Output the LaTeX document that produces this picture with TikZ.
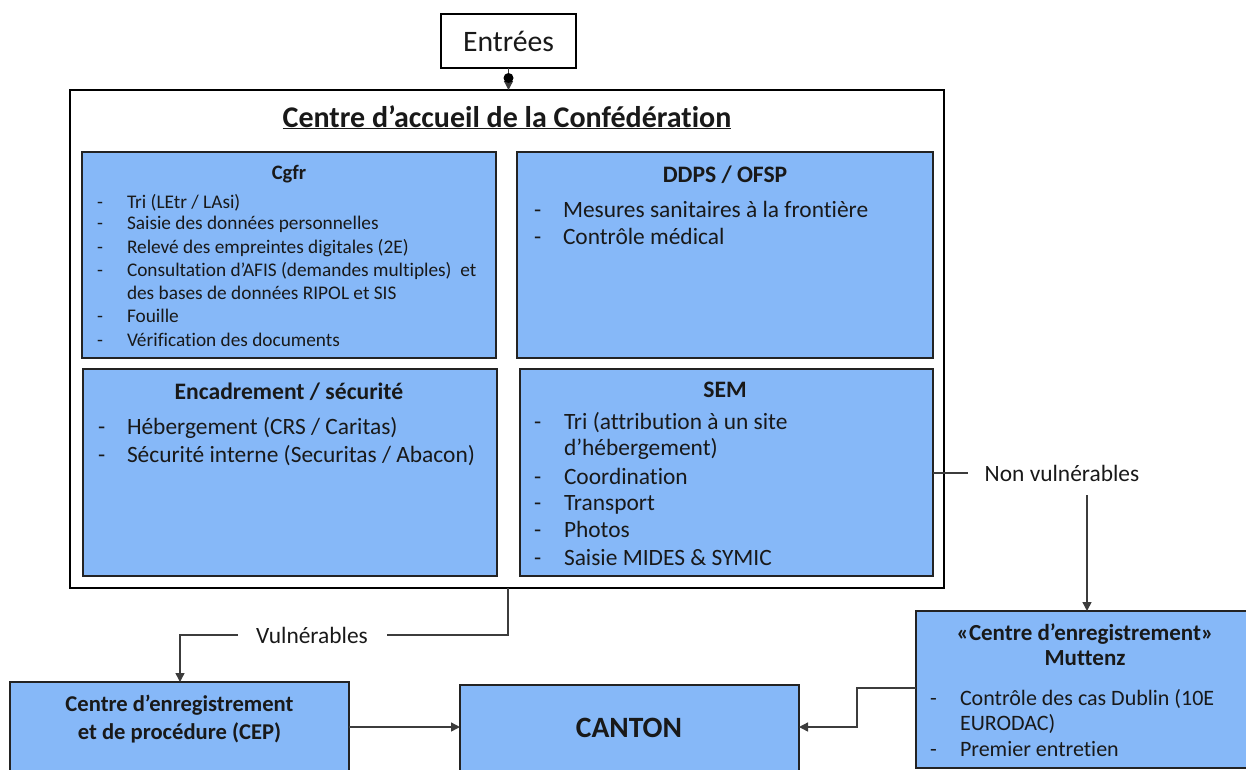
\documentclass[tikz,border=0pt]{standalone}
\usepackage{fontspec}
\setmainfont{Carlito}[Ligatures={NoCommon}]
\usetikzlibrary{arrows.meta}
\definecolor{boxblue}{RGB}{134,184,248}
\definecolor{edgec}{RGB}{35,35,35}
\definecolor{connc}{RGB}{60,60,60}
\definecolor{textc}{RGB}{25,25,25}
\begin{document}
\begin{tikzpicture}[x=1pt,y=-1pt,
  bluebox/.style={draw=edgec,line width=1.4pt,fill=boxblue,anchor=north west,inner sep=0pt,outer sep=0pt},
  plainbox/.style={draw=black,line width=1.4pt,fill=white,anchor=north west,inner sep=0pt,outer sep=0pt},
  txt/.style={inner sep=0pt,outer sep=0pt,anchor=base west,text=textc},
  ctxt/.style={inner sep=0pt,outer sep=0pt,anchor=base,text=textc},
  fsmall/.style={font=\fontsize{19.3}{22}\selectfont},
  fsmallb/.style={font=\fontsize{20.5}{24}\selectfont\bfseries},
  fmid/.style={font=\fontsize{23.4}{27}\selectfont},
  fmidb/.style={font=\fontsize{23.6}{27}\selectfont\bfseries},
  fcepb/.style={font=\fontsize{22.6}{27}\selectfont\bfseries},
  fmutt/.style={font=\fontsize{22}{26}\selectfont},
  fmuttb/.style={font=\fontsize{23}{27}\selectfont\bfseries},
  conn/.style={draw=connc,line width=1.4pt},
  arr/.style={conn,-{Triangle[length=9pt,width=9pt]}}
]
\useasboundingbox (0,0) rectangle (1246,769);
\clip (0,0) rectangle (1246,769);

% boxes
\node[plainbox,minimum width=135pt,minimum height=54pt] (entrees) at (441,14) {};
\node[ctxt,font=\fontsize{29.7}{34}\selectfont] (entreesT) at (508.5,51) {Entrées};
\node[plainbox,minimum width=874pt,minimum height=498pt] (main) at (70,90) {};
\node[ctxt,font=\fontsize{30}{34}\selectfont\bfseries] (mainT) at (507,127) {\underline{Centre d’accueil de la Confédération}};

\node[bluebox,minimum width=414pt,minimum height=206pt] (cgfr) at (82,152) {};
\node[bluebox,minimum width=416pt,minimum height=206pt] (ddps) at (517,152) {};
\node[bluebox,minimum width=414pt,minimum height=207pt] (enc) at (83,369) {};
\node[bluebox,minimum width=413pt,minimum height=207pt] (sem) at (520,369) {};
\node[bluebox,minimum width=338pt,minimum height=157pt] (mutt) at (916,611) {};
\node[bluebox,minimum width=339pt,minimum height=100pt] (cep) at (10,682) {};
\node[bluebox,minimum width=339pt,minimum height=100pt] (canton) at (460,685) {};

% Cgfr
\node[ctxt,fsmallb] (cgfrT) at (289,179) {Cgfr};
\node[txt,fsmall] (cg1d) at (97,208) {-};
\node[txt,fsmall] (cg1) at (127,208) {Tri (LEtr / LAsi)};
\node[txt,fsmall] (cg2d) at (97,229.5) {-};
\node[txt,fsmall] (cg2) at (127,229.5) {Saisie des données personnelles};
\node[txt,fsmall] (cg3d) at (97,253) {-};
\node[txt,fsmall] (cg3) at (127,253) {Relevé des empreintes digitales (2E)};
\node[txt,fsmall] (cg4d) at (97,276) {-};
\node[txt,fsmall] (cg4) at (127,276) {Consultation d’AFIS (demandes multiples)\ \ et};
\node[txt,fsmall] (cg4b) at (127,299.5) {des bases de données RIPOL et SIS};
\node[txt,fsmall] (cg5d) at (97,322) {-};
\node[txt,fsmall] (cg5) at (127,322) {Fouille};
\node[txt,fsmall] (cg6d) at (97,346) {-};
\node[txt,fsmall] (cg6) at (127,346) {Vérification des documents};

% DDPS
\node[ctxt,fmidb] (ddpsT) at (725,182.5) {DDPS / OFSP};
\node[txt,fmid] (dd1d) at (534,217.5) {-};
\node[txt,fmid] (dd1) at (563,217.5) {Mesures sanitaires à la frontière};
\node[txt,fmid] (dd2d) at (534,244.5) {-};
\node[txt,fmid] (dd2) at (563,244.5) {Contrôle médical};

% Encadrement
\node[ctxt,fmidb] (encT) at (289,399.5) {Encadrement / sécurité};
\node[txt,fmid] (en1d) at (98,434.5) {-};
\node[txt,fmid] (en1) at (127,434.5) {Hébergement (CRS / Caritas)};
\node[txt,fmid] (en2d) at (98,462.5) {-};
\node[txt,fmid] (en2) at (127,462.5) {Sécurité interne (Securitas / Abacon)};

% SEM
\node[ctxt,fmidb] (semT) at (725,397.5) {SEM};
\node[txt,fmid] (se1d) at (534,429.5) {-};
\node[txt,fmid] (se1) at (564,429.5) {Tri (attribution à un site};
\node[txt,fmid] (se1b) at (564,455.5) {d’hébergement)};
\node[txt,fmid] (se2d) at (534,484.5) {-};
\node[txt,fmid] (se2) at (564,484.5) {Coordination};
\node[txt,fmid] (se3d) at (534,510.5) {-};
\node[txt,fmid] (se3) at (564,510.5) {Transport};
\node[txt,fmid] (se4d) at (534,537.5) {-};
\node[txt,fmid] (se4) at (564,537.5) {Photos};
\node[txt,fmid] (se5d) at (534,565.5) {-};
\node[txt,fmid] (se5) at (564,565.5) {Saisie MIDES \& SYMIC};

% Muttenz
\node[ctxt,fmuttb] (muT1) at (1085,640.5) {«Centre d’enregistrement»};
\node[ctxt,fmuttb] (muT2) at (1085,665.5) {Muttenz};
\node[txt,fmutt] (mu1d) at (930,705) {-};
\node[txt,fmutt] (mu1) at (960,705) {Contrôle des cas Dublin (10E};
\node[txt,fmutt] (mu1b) at (960,730) {EURODAC)};
\node[txt,fmutt] (mu2d) at (930,756) {-};
\node[txt,fmutt] (mu2) at (960,756) {Premier entretien};

% CEP and CANTON
\node[ctxt,fcepb] (cepT1) at (179.5,711) {Centre d’enregistrement};
\node[ctxt,fcepb] (cepT2) at (179.5,739) {et de procédure (CEP)};
\node[ctxt,font=\fontsize{29.5}{34}\selectfont\bfseries] (cantonT) at (629,737.5) {CANTON};

% labels
\node[ctxt,fmid,anchor=center] (nonv) at (1062,473) {Non vulnérables};
\node[ctxt,fmid,anchor=center] (vuln) at (312,635) {Vulnérables};

% connector coordinates
\coordinate (nv1) at (968,473);
\coordinate (nv2) at (1087,495);
\coordinate (v1) at (508,635);
\coordinate (v2) at (387,635);
\coordinate (v3) at (238,635);
\coordinate (v4) at (180,635);
\coordinate (ay) at (0,727);
\coordinate (my) at (0,688);
\coordinate (mx) at (857,0);

% connectors
\draw[arr] (entrees.south) -- (entrees.south |- main.north);
\fill[black] (508.5,78) circle (5pt);
\draw[conn] (sem.east |- nv1) -- (nv1);
\draw[arr] (nv2) -- (nv2 |- mutt.north);
\draw[conn] (main.south -| v1) -- (v1) -- (v2);
\draw[arr] (v3) -- (v4) -- (v4 |- cep.north);
\draw[arr] (cep.east |- ay) -- (canton.west |- ay);
\draw[arr] (mutt.west |- my) -- (mx |- my) -- (mx |- ay) -- (canton.east |- ay);
\end{tikzpicture}
\end{document}
